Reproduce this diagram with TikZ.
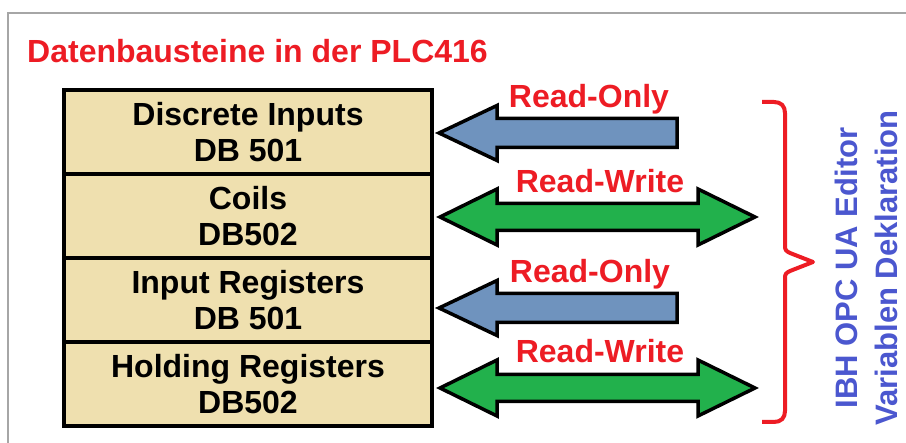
\documentclass[tikz,border=0pt]{standalone}
\usepackage{fontspec}
\setmainfont{Liberation Sans}
\usetikzlibrary{positioning}
\definecolor{dbfill}{HTML}{EFE0AF}
\definecolor{labelred}{HTML}{ED1C24}
\definecolor{readcolor}{HTML}{6F93BE}
\definecolor{writecolor}{HTML}{22B14C}
\definecolor{editorblue}{HTML}{4B57CF}
\definecolor{framegray}{HTML}{A6A6A6}

\begin{document}
\begin{tikzpicture}[x=1pt, y=-1pt,
    every node/.style={font=\fontsize{32}{36}\selectfont\bfseries},
    dbrow/.style={draw, line width=4.5pt, fill=dbfill, outer sep=0pt,
                  minimum width=368pt, minimum height=84pt, align=center},
    blockarrow/.style={draw, line width=3.5pt, line join=miter},
    modelabel/.style={text=labelred, anchor=base, inner sep=0pt}]
    \useasboundingbox (0,0) rectangle (906,443);

    % Frame
    \draw[framegray, line width=2pt] (8,443) -- (8,13) -- (906,13);

    % Title
    \node[text=labelred, anchor=base west, inner sep=0pt] (title) at (27,63) {Datenbausteine in der PLC416};

    % Data blocks
    \node[dbrow] (db1) at (248,132) {Discrete Inputs\\DB 501};
    \node[dbrow, below=0pt of db1] (db2) {Coils\\DB502};
    \node[dbrow, below=0pt of db2] (db3) {Input Registers\\DB 501};
    \node[dbrow, below=0pt of db3] (db4) {Holding Registers\\DB502};

    % Read-only arrows
    \foreach \n/\c in {1/133, 3/308} {
        \coordinate (ro\n) at (439,\c);
        \draw[blockarrow, fill=readcolor] (ro\n) -- ++(58,-27.5) -- ++(0,13) -- ++(180,0)
            -- ++(0,29) -- ++(-180,0) -- ++(0,13) -- cycle;
    }

    % Read-write arrows
    \foreach \n/\c in {2/217, 4/388} {
        \coordinate (rw\n) at (440,\c);
        \draw[blockarrow, fill=writecolor] (rw\n) -- ++(57,-28) -- ++(0,14.5) -- ++(201,0)
            -- ++(0,-14.5) -- ++(57,28) -- ++(-57,28) -- ++(0,-14.5) -- ++(-201,0)
            -- ++(0,14.5) -- cycle;
    }

    % Labels
    \node[modelabel] (lro1) at (589,108) {Read-Only};
    \node[modelabel] (lrw2) at (600,193) {Read-Write};
    \node[modelabel] (lro3) at (590,283) {Read-Only};
    \node[modelabel] (lrw4) at (600,363) {Read-Write};

    % Brace
    \draw[labelred, line width=4pt, line join=round]
        (762,102) -- (774,102) .. controls (781,102) and (785,106) .. (785,113)
        -- (785,246) .. controls (785,250) and (786,251) .. (790,253) -- (813,262)
        -- (790,271) .. controls (786,273) and (785,274) .. (785,278)
        -- (785,411) .. controls (785,418) and (781,422) .. (774,422) -- (762,422);

    \node[rotate=90, text=editorblue, align=center, inner sep=0pt,
          font=\fontsize{31}{40}\selectfont\bfseries] (editor) at (866,268)
          {IBH OPC UA Editor\\Variablen Deklaration};
\end{tikzpicture}
\end{document}
